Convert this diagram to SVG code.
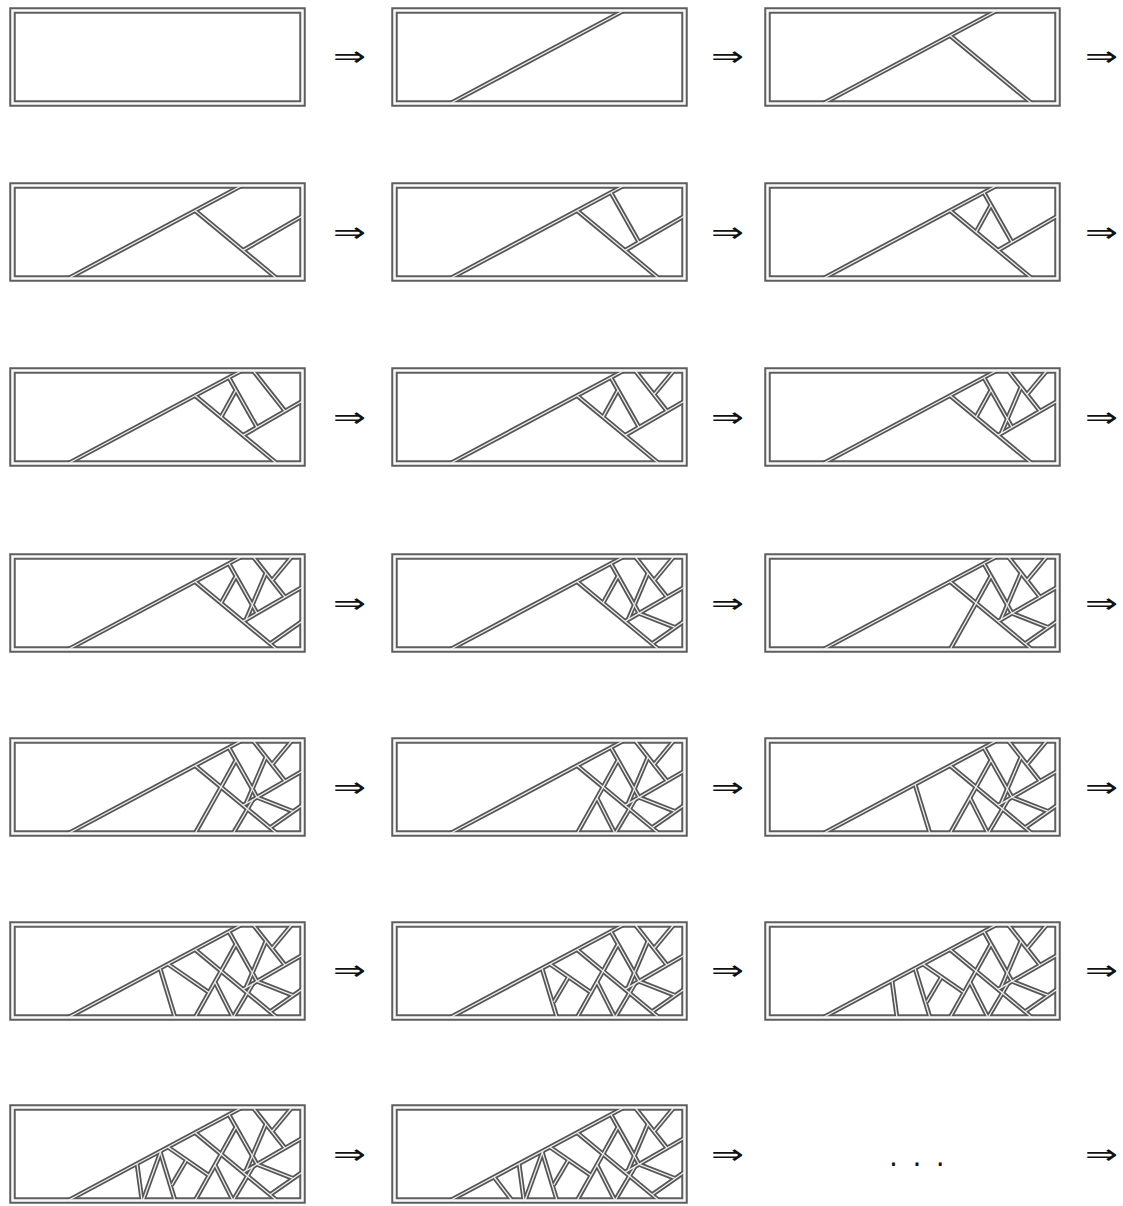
<svg xmlns="http://www.w3.org/2000/svg" xmlns:xlink="http://www.w3.org/1999/xlink" width="1123" height="1206" viewBox="0 0 1123 1206">
<style>
.fr{fill:none;stroke:#5e5e5e;stroke-width:6.5}
.frc{fill:none;stroke:#fafafa;stroke-width:2.5}
.rd{fill:none;stroke:#555;stroke-width:4.8;stroke-linecap:butt}
.rc{fill:none;stroke:#eee;stroke-width:1.3;stroke-linecap:butt}
.ar{font-family:"DejaVu Sans",sans-serif;font-size:28px;fill:#111}
</style>
<defs>
<rect id="frame" x="2.5" y="2.5" width="290" height="93"/>
<path id="a1" d="M58 95.5 L232 2.5"/>
<path id="a2" d="M185 27.6 L267 95.5"/>
<path id="a3" d="M292.5 33 L233 67.4"/>
<path id="a4" d="M219 9.8 L247 59.3"/>
<path id="a5" d="M211 49.1 L226 22"/>
<path id="a6" d="M243 2.5 L275 43.1"/>
<path id="a7" d="M282 2.5 L262 26.5"/>
<path id="a8" d="M256 19 L236 65.7"/>
<path id="a9" d="M292.5 67 L260 89.7"/>
<path id="a15" d="M247 59.3 L283 73.4"/>
<path id="a10" d="M185 95.5 L211 49.1"/>
<path id="a11" d="M223 95.5 L243 61.6"/>
<path id="a16" d="M223 95.5 L205 60"/>
<path id="a12" d="M150 46.4 L165 95.5"/>
<path id="a17" d="M158 42.1 L199 70.5"/>
<path id="a18" d="M176.7 54.6 L161.7 80"/>
<path id="a13" d="M127 58.7 L132 95.5"/>
<path id="a19" d="M133 95.5 L151 45.8"/>
<path id="a20" d="M102 72 L120 95.5"/>
<g id="n1"><use href="#a1"/></g>
<g id="n2"><use href="#n1"/><use href="#a2"/></g>
<g id="n3"><use href="#n2"/><use href="#a3"/></g>
<g id="n4"><use href="#n3"/><use href="#a4"/></g>
<g id="n5"><use href="#n4"/><use href="#a5"/></g>
<g id="n6"><use href="#n5"/><use href="#a6"/></g>
<g id="n7"><use href="#n6"/><use href="#a7"/></g>
<g id="n8"><use href="#n7"/><use href="#a8"/></g>
<g id="n9"><use href="#n8"/><use href="#a9"/></g>
<g id="n10"><use href="#n9"/><use href="#a15"/></g>
<g id="n11"><use href="#n10"/><use href="#a10"/></g>
<g id="n12"><use href="#n11"/><use href="#a11"/></g>
<g id="n13"><use href="#n12"/><use href="#a16"/></g>
<g id="n14"><use href="#n13"/><use href="#a12"/></g>
<g id="n15"><use href="#n14"/><use href="#a17"/></g>
<g id="n16"><use href="#n15"/><use href="#a18"/></g>
<g id="n17"><use href="#n16"/><use href="#a13"/></g>
<g id="n18"><use href="#n17"/><use href="#a19"/></g>
<g id="n19"><use href="#n18"/><use href="#a20"/></g>
</defs>
<rect width="1123" height="1206" fill="#fff"/>
<g id="panel-0" transform="translate(10,8)"><use href="#frame" class="fr"/><use href="#frame" class="frc"/></g>
<g id="panel-1" transform="translate(392,8)"><use href="#frame" class="fr"/><use href="#n1" class="rd"/><use href="#frame" class="frc"/><use href="#n1" class="rc"/></g>
<g id="panel-2" transform="translate(765,8)"><use href="#frame" class="fr"/><use href="#n2" class="rd"/><use href="#frame" class="frc"/><use href="#n2" class="rc"/></g>
<g id="panel-3" transform="translate(10,183)"><use href="#frame" class="fr"/><use href="#n3" class="rd"/><use href="#frame" class="frc"/><use href="#n3" class="rc"/></g>
<g id="panel-4" transform="translate(392,183)"><use href="#frame" class="fr"/><use href="#n4" class="rd"/><use href="#frame" class="frc"/><use href="#n4" class="rc"/></g>
<g id="panel-5" transform="translate(765,183)"><use href="#frame" class="fr"/><use href="#n5" class="rd"/><use href="#frame" class="frc"/><use href="#n5" class="rc"/></g>
<g id="panel-6" transform="translate(10,368)"><use href="#frame" class="fr"/><use href="#n6" class="rd"/><use href="#frame" class="frc"/><use href="#n6" class="rc"/></g>
<g id="panel-7" transform="translate(392,368)"><use href="#frame" class="fr"/><use href="#n7" class="rd"/><use href="#frame" class="frc"/><use href="#n7" class="rc"/></g>
<g id="panel-8" transform="translate(765,368)"><use href="#frame" class="fr"/><use href="#n8" class="rd"/><use href="#frame" class="frc"/><use href="#n8" class="rc"/></g>
<g id="panel-9" transform="translate(10,554)"><use href="#frame" class="fr"/><use href="#n9" class="rd"/><use href="#frame" class="frc"/><use href="#n9" class="rc"/></g>
<g id="panel-10" transform="translate(392,554)"><use href="#frame" class="fr"/><use href="#n10" class="rd"/><use href="#frame" class="frc"/><use href="#n10" class="rc"/></g>
<g id="panel-11" transform="translate(765,554)"><use href="#frame" class="fr"/><use href="#n11" class="rd"/><use href="#frame" class="frc"/><use href="#n11" class="rc"/></g>
<g id="panel-12" transform="translate(10,738)"><use href="#frame" class="fr"/><use href="#n12" class="rd"/><use href="#frame" class="frc"/><use href="#n12" class="rc"/></g>
<g id="panel-13" transform="translate(392,738)"><use href="#frame" class="fr"/><use href="#n13" class="rd"/><use href="#frame" class="frc"/><use href="#n13" class="rc"/></g>
<g id="panel-14" transform="translate(765,738)"><use href="#frame" class="fr"/><use href="#n14" class="rd"/><use href="#frame" class="frc"/><use href="#n14" class="rc"/></g>
<g id="panel-15" transform="translate(10,922)"><use href="#frame" class="fr"/><use href="#n15" class="rd"/><use href="#frame" class="frc"/><use href="#n15" class="rc"/></g>
<g id="panel-16" transform="translate(392,922)"><use href="#frame" class="fr"/><use href="#n16" class="rd"/><use href="#frame" class="frc"/><use href="#n16" class="rc"/></g>
<g id="panel-17" transform="translate(765,922)"><use href="#frame" class="fr"/><use href="#n17" class="rd"/><use href="#frame" class="frc"/><use href="#n17" class="rc"/></g>
<g id="panel-18" transform="translate(10,1105)"><use href="#frame" class="fr"/><use href="#n18" class="rd"/><use href="#frame" class="frc"/><use href="#n18" class="rc"/></g>
<g id="panel-19" transform="translate(392,1105)"><use href="#frame" class="fr"/><use href="#n19" class="rd"/><use href="#frame" class="frc"/><use href="#n19" class="rc"/></g>
<g id="connectors" class="ar">
<text x="333" y="66" textLength="33" lengthAdjust="spacingAndGlyphs">⇒</text><text x="711" y="66" textLength="33" lengthAdjust="spacingAndGlyphs">⇒</text><text x="1085" y="66" textLength="33" lengthAdjust="spacingAndGlyphs">⇒</text>
<text x="333" y="242" textLength="33" lengthAdjust="spacingAndGlyphs">⇒</text><text x="711" y="242" textLength="33" lengthAdjust="spacingAndGlyphs">⇒</text><text x="1085" y="242" textLength="33" lengthAdjust="spacingAndGlyphs">⇒</text>
<text x="333" y="427" textLength="33" lengthAdjust="spacingAndGlyphs">⇒</text><text x="711" y="427" textLength="33" lengthAdjust="spacingAndGlyphs">⇒</text><text x="1085" y="427" textLength="33" lengthAdjust="spacingAndGlyphs">⇒</text>
<text x="333" y="613" textLength="33" lengthAdjust="spacingAndGlyphs">⇒</text><text x="711" y="613" textLength="33" lengthAdjust="spacingAndGlyphs">⇒</text><text x="1085" y="613" textLength="33" lengthAdjust="spacingAndGlyphs">⇒</text>
<text x="333" y="797" textLength="33" lengthAdjust="spacingAndGlyphs">⇒</text><text x="711" y="797" textLength="33" lengthAdjust="spacingAndGlyphs">⇒</text><text x="1085" y="797" textLength="33" lengthAdjust="spacingAndGlyphs">⇒</text>
<text x="333" y="980" textLength="33" lengthAdjust="spacingAndGlyphs">⇒</text><text x="711" y="980" textLength="33" lengthAdjust="spacingAndGlyphs">⇒</text><text x="1085" y="980" textLength="33" lengthAdjust="spacingAndGlyphs">⇒</text>
<text x="333" y="1164" textLength="33" lengthAdjust="spacingAndGlyphs">⇒</text><text x="711" y="1164" textLength="33" lengthAdjust="spacingAndGlyphs">⇒</text><text x="1085" y="1164" textLength="33" lengthAdjust="spacingAndGlyphs">⇒</text>
<text x="889" y="1166" letter-spacing="14.5">...</text>
</g>
</svg>
